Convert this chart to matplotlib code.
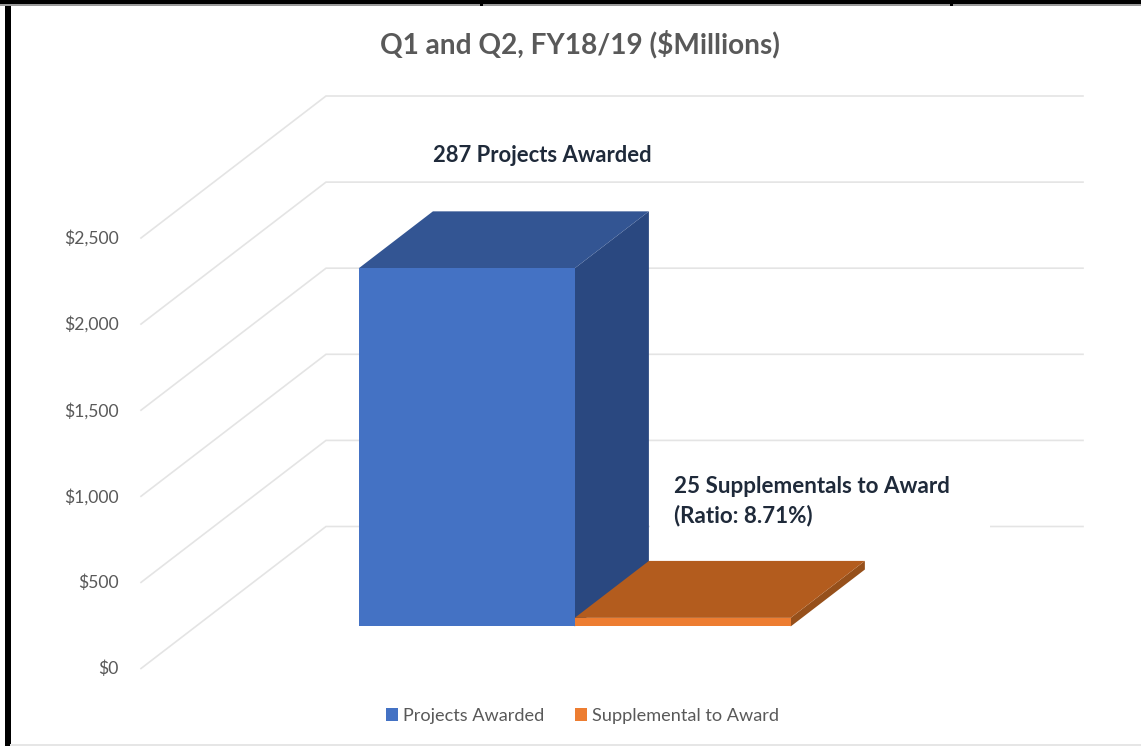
import matplotlib
matplotlib.use("Agg")
import matplotlib.pyplot as plt
from matplotlib.patches import Polygon, Rectangle, Patch

W, H = 1141, 746
title = "Q1 and Q2, FY18/19 ($Millions)"
series_names = ["Projects Awarded", "Supplemental to Award"]
series_values = [2080, 50]
tick_values = [0, 500, 1000, 1500, 2000, 2500]
tick_labels = ["$0", "$500", "$1,000", "$1,500", "$2,000", "$2,500"]
note_projects = "287 Projects Awarded"
note_supp = "25 Supplementals to Award\n(Ratio: 8.71%)"

plt.rcParams["font.family"] = ["Lato", "DejaVu Sans"]

# oblique projection of (x position, depth, dollar value) onto the page
X0, WIDTH, Y0, K = 141, 757, 668.5, 0.1722
DX, DY = 185, 142
BAR_LEFT, BAR_W = 0.2153, 0.2853
D_FRONT, D_BACK = 0.296, 0.697


def P(u, d, v):
    return (X0 + u * WIDTH + d * DX, Y0 - K * v - d * DY)


fig = plt.figure(figsize=(W / 100, H / 100), dpi=100, facecolor="white")
ax = fig.add_axes([0, 0, 1, 1])
ax.set_xlim(0, W)
ax.set_ylim(H, 0)
ax.axis("off")

# gridlines: side wall and back wall
for v, lab in zip(tick_values, tick_labels):
    a, b, c = P(0, 0, v), P(0, 1, v), P(1, 1, v)
    ax.plot([a[0], b[0], c[0]], [a[1], b[1], c[1]], color="#E4E4E4", lw=1.2, zorder=1,
            solid_joinstyle="miter")
    ax.text(119, a[1] + 0.5, lab, ha="right", va="center", fontsize=12.6, color="#595959")

# data-label boxes hide the grid behind them
ax.text(674, 501.5, note_supp, ha="left", va="center", fontsize=16.1, fontweight="bold",
        color="#1F2A3A", linespacing=1.45, zorder=6)
ax.add_patch(Rectangle((650, 470), 340, 62, facecolor="white", edgecolor="none", zorder=2))
ax.text(542, 155, note_projects, ha="center", va="center", fontsize=15.8, fontweight="bold",
        color="#1F2A3A", zorder=6)

faces = [("#4472C4", "#335593", "#2A4880"), ("#ED7D31", "#B35C1E", "#96501B")]
for i, (val, (front, top, side)) in enumerate(zip(series_values, faces)):
    l = BAR_LEFT + i * BAR_W
    r = l + BAR_W
    z = 3 + i
    ax.add_patch(Polygon([P(r, D_FRONT, 0), P(r, D_BACK, 0), P(r, D_BACK, val), P(r, D_FRONT, val)],
                         facecolor=side, edgecolor="none", zorder=z))
    ax.add_patch(Polygon([P(l, D_FRONT, val), P(r, D_FRONT, val), P(r, D_BACK, val), P(l, D_BACK, val)],
                         facecolor=top, edgecolor="none", zorder=z))
    ax.add_patch(Polygon([P(l, D_FRONT, 0), P(r, D_FRONT, 0), P(r, D_FRONT, val), P(l, D_FRONT, val)],
                         facecolor=front, edgecolor="none", zorder=z))

ax.text(579.5, 44, title, ha="center", va="center", fontsize=20.2, fontweight="bold", color="#595959")

handles = [Patch(facecolor=f[0], edgecolor="none", label=n) for f, n in zip(faces, series_names)]
ax.legend(handles=handles, loc="center", bbox_to_anchor=(582.5, 716), bbox_transform=ax.transData,
          ncol=2, frameon=False, fontsize=13.1, labelcolor="#595959", handlelength=0.66,
          handleheight=0.66, handletextpad=0.27, columnspacing=1.7, borderpad=0)

# screenshot frame
ax.add_patch(Rectangle((5, 0), 5.5, H, facecolor="black", edgecolor="none", zorder=8))
ax.add_patch(Rectangle((0, 0), W, 3.5, facecolor="black", edgecolor="none", zorder=8))
ax.add_patch(Rectangle((0, 3.5), W, 2, facecolor="#9A9A9A", edgecolor="none", zorder=8))
ax.add_patch(Rectangle((10, 744), W, 2, facecolor="#E6E6E6", edgecolor="none", zorder=8))
for x in (480, 950):
    ax.add_patch(Rectangle((x, 0), 2.5, 5.5, facecolor="black", edgecolor="none", zorder=9))

fig.savefig("out.png", dpi=100, facecolor="white")
